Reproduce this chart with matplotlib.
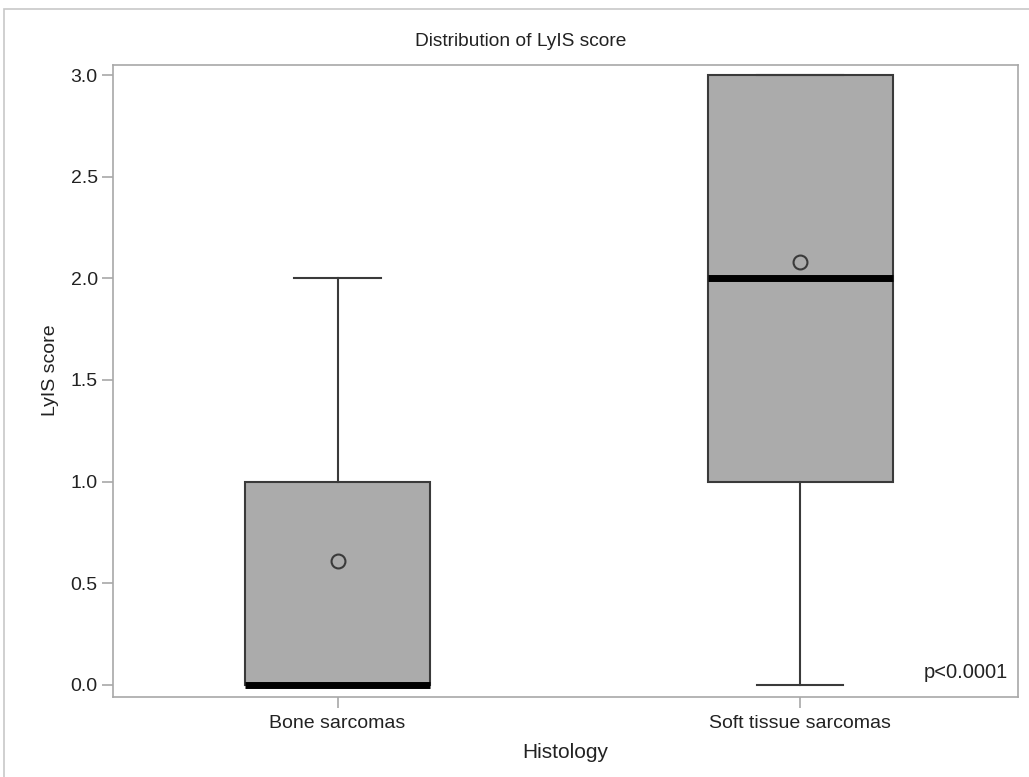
import matplotlib
matplotlib.use("Agg")
import matplotlib.pyplot as plt
from matplotlib.patches import Rectangle

plt.rcParams['font.family'] = ['Liberation Sans', 'DejaVu Sans']

categories = ["Bone sarcomas", "Soft tissue sarcomas"]
whisker_low = [0.0, 0.0]
q1 = [0.0, 1.0]
median = [0.0, 2.0]
q3 = [1.0, 3.0]
whisker_high = [2.0, 3.0]
means = [0.61, 2.08]
yticks = [0.0, 0.5, 1.0, 1.5, 2.0, 2.5, 3.0]

fig = plt.figure(figsize=(10.29, 7.77), dpi=100)
ax = fig.add_axes([113/1029, 1-697/777, (1018-113)/1029, (697-65)/777])

# outer border
fig.patches.append(Rectangle((4/1029, -0.01), 1.02, 1-9/777+0.01, transform=fig.transFigure,
                             fill=False, edgecolor='#c8c8c8', linewidth=1.2))

stats = []
for i, c in enumerate(categories):
    stats.append(dict(label=c, whislo=whisker_low[i], q1=q1[i], med=median[i],
                      q3=q3[i], whishi=whisker_high[i], mean=means[i], fliers=[]))

edge = '#3a3a3a'
ax.bxp(stats, positions=range(len(categories)), widths=0.40, patch_artist=True,
       showmeans=True, meanline=False,
       boxprops=dict(facecolor='#ababab', edgecolor=edge, linewidth=1.5),
       whiskerprops=dict(color=edge, linewidth=1.5),
       capprops=dict(color=edge, linewidth=1.5),
       medianprops=dict(color='black', linewidth=5, solid_capstyle='butt'),
       meanprops=dict(marker='o', markerfacecolor='none', markeredgecolor=edge,
                      markersize=10, markeredgewidth=1.5),
       capwidths=0.186, zorder=3)

ax.set_xlim(-0.485, 1.47)
ax.set_ylim(-0.06, 3.05)
ax.set_yticks(yticks)
ax.set_yticklabels([f"{v:.1f}" for v in yticks])
ax.set_xticks(range(len(categories)))
ax.set_xticklabels(categories)

for s in ax.spines.values():
    s.set_color('#a8a8a8')
    s.set_linewidth(1.2)
ax.tick_params(axis='both', colors='#a8a8a8', labelcolor='#222222', labelsize=14,
               length=8, width=1.2)
ax.tick_params(axis='y', pad=3)
ax.tick_params(axis='x', pad=5)

ax.set_xlabel("Histology", fontsize=15, color='#222222', labelpad=8)
ax.set_ylabel("LyIS score", fontsize=14, color='#222222')
ax.yaxis.set_label_coords(-0.060, 0.5 + 11/632)
fig.text(521/1029, 1-41/777, "Distribution of LyIS score", ha='center', va='center',
         fontsize=13.8, color='#222222')
ax.text(1008/1029, 1-678/777, "p<0.0001", transform=fig.transFigure, ha='right', va='baseline',
        fontsize=14.5, color='#222222')

fig.savefig("out.png", dpi=100)
